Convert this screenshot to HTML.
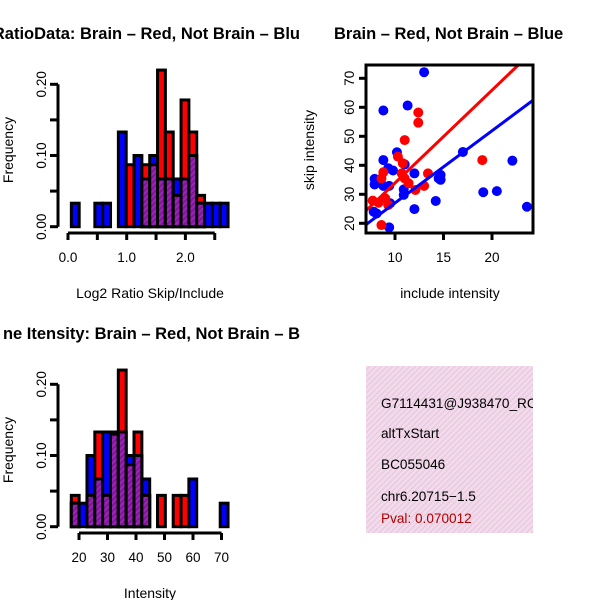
<!DOCTYPE html>
<html><head><meta charset="utf-8"><style>
html,body{margin:0;padding:0;background:#fff}
svg{display:block;font-family:"Liberation Sans",sans-serif}
</style></head><body>
<svg id="c" width="600" height="600" viewBox="0 0 600 600">
<defs>
<pattern id="purp" width="4" height="4" patternUnits="userSpaceOnUse" patternTransform="rotate(45)">
<rect width="4" height="4" fill="#a020c0"/><rect width="2" height="4" fill="#7a1a90"/></pattern>
<pattern id="pink" width="4" height="4" patternUnits="userSpaceOnUse" patternTransform="rotate(45)">
<rect width="4" height="4" fill="#f8d8f0"/><rect width="1.5" height="4" fill="#e0d0d8"/></pattern>
<clipPath id="boxclip"><rect x="366" y="366" width="167" height="167"/></clipPath>
</defs>
<g id="g"></g>
</svg>
<script>
// Top-left histogram data (log2 ratio)
const h1BinStart = 0.057, h1BinWidth = 0.1335;
const h1Red  = [0,0,0,0,0,0,0,0.087,0,0.087,0.087,0.22,0.133,0.044,0.178,0.133,0.044,0,0,0];
const h1Blue = [0.033,0,0,0.033,0.033,0,0.133,0,0.1,0.067,0.1,0.067,0.067,0.067,0.067,0.1,0.033,0.033,0.033,0.033];
const h1XTicks = [0,0.5,1,1.5,2,2.5];
const h1XLabels = ["0.0","","1.0","","2.0",""];
const hYTicks = [0,0.05,0.1,0.15,0.2];
const hYLabels = ["0.00","","0.10","","0.20"];
// Bottom-left histogram (intensity)
const h2BinStart = 17.3, h2BinWidth = 2.75;
const h2Red  = [0.044,0,0.044,0.133,0.044,0.133,0.22,0.087,0.133,0.044,0,0.044,0,0.044,0.044,0,0,0,0,0];
const h2Blue = [0.033,0.033,0.1,0.067,0.133,0.13,0.133,0.1,0.1,0.067,0,0,0,0,0,0.067,0,0,0,0.033];
const h2XTicks = [20,30,40,50,60,70];
// Scatter
const blueX = [13.0,8.8,11.3,10.2,17.0,8.8,9.3,9.8,11.0,12.0,7.9,7.9,8.8,9.4,10.9,10.9,14.7,14.7,14.5,14.2,12.0,9.5,7.8,8.1,9.4,19.1,20.5,22.1,23.6];
const blueY = [72.1,58.9,60.6,44.5,44.6,41.8,39,38.2,40.3,37.2,35.3,33.4,32.9,32.9,31.7,29.8,36.7,35,35.5,27.7,24.9,26.9,24,23.4,18.6,30.7,31.1,41.6,25.7];
const redX = [12.4,12.4,11.0,10.3,10.8,8.8,8.6,10.7,11.0,11.4,13.4,13.0,12.1,7.7,8.3,9.0,8.6,19.0,9.3];
const redY = [58.2,54.7,48.7,43,40.7,37.6,35.5,37.2,35.5,33.8,37.2,32.9,31.5,27.8,27.1,28.6,19.4,41.8,26.3];
const redFit = [1.9, 3.2];   // intercept, slope
const blueFit = [2.1, 2.49];
const sXTicks = [10,15,20];
const sYTicks = [20,30,40,50,60,70];

const NS="http://www.w3.org/2000/svg";
const G=document.getElementById('g');
function mk(tag,attrs,parent){const e=document.createElementNS(NS,tag);for(const k in attrs)e.setAttribute(k,attrs[k]);(parent||G).appendChild(e);return e;}
function txt(s,attrs,parent){const e=mk('text',attrs,parent);e.textContent=s;return e;}

function hist(y0px, binStart, binW, xScaleA, xScaleB, red, blue, xt, xl, axY, yLab, prefix){
  const X=v=>xScaleA+v*xScaleB;
  const Y=v=>y0px - v*712;
  for(let i=0;i<red.length;i++){
    const x0=X(binStart+i*binW), x1=X(binStart+(i+1)*binW);
    const r=red[i], b=blue[i];
    const bars=[[r,'#ff0000','red'],[b,'#0000ff','blue']].filter(d=>d[0]>0).sort((a,c)=>c[0]-a[0]);
    bars.forEach(d=>{
      const e=mk('rect',{x:x0,y:Y(d[0]),width:x1-x0,height:y0px-Y(d[0]),fill:d[1],stroke:'#000','stroke-width':3});
      
      
    });
    const m=Math.min(r,b);
    if(m>0){
      const e=mk('rect',{x:x0,y:Y(m),width:x1-x0,height:y0px-Y(m),fill:'url(#purp)',stroke:'#000','stroke-width':3});
      
      
    }
  }
  mk('line',{x1:58,x2:58,y1:Y(0),y2:Y(0.2),stroke:'#000','stroke-width':3});
  hYTicks.forEach((t,i)=>{
    mk('line',{x1:50,x2:58,y1:Y(t),y2:Y(t),stroke:'#000','stroke-width':3});
    if(hYLabels[i]){const e=txt(hYLabels[i],{x:0,y:0,'font-size':13.5,'text-anchor':'middle',transform:`translate(46,${Y(t)}) rotate(-90)`});
      }
  });
  mk('line',{x1:X(xt[0]),x2:X(xt[xt.length-1]),y1:axY,y2:axY,stroke:'#000','stroke-width':3});
  xt.forEach((t,i)=>{
    mk('line',{x1:X(t),x2:X(t),y1:axY,y2:axY+7,stroke:'#000','stroke-width':3});
    if(xl[i]){const e=txt(xl[i],{x:X(t),y:axY+29,'font-size':13.5,'text-anchor':'middle'});
      }
  });
}
hist(226.7, h1BinStart, h1BinWidth, 68, 58.7, h1Red, h1Blue, h1XTicks, h1XLabels, 233, '', 'ratio-hist');
hist(526.7, h2BinStart, h2BinWidth, 79-20*2.85, 2.85, h2Red, h2Blue, h2XTicks, h2XTicks.map(String), 533, '', 'intensity-hist');

// scatter
const SX=v=>395+(v-10)*9.7, SY=v=>223.3-(v-20)*2.9;
const sc=mk('g',{});

const clip=mk('clipPath',{id:'scclip'},sc);mk('rect',{x:366,y:65,width:167,height:168},clip);
const pts=mk('g',{'clip-path':'url(#scclip)'},sc);
blueX.forEach((v,i)=>{const e=mk('circle',{cx:SX(v),cy:SY(blueY[i]),r:5,fill:'#0000ff'},pts);
  });
redX.forEach((v,i)=>{const e=mk('circle',{cx:SX(v),cy:SY(redY[i]),r:5,fill:'#ff0000'},pts);
  });
[[redFit,'#ff0000','fit-line-brain'],[blueFit,'#0000ff','fit-line-not-brain']].forEach(f=>{
  const e=mk('line',{x1:SX(6),y1:SY(f[0][0]+f[0][1]*6),x2:SX(26),y2:SY(f[0][0]+f[0][1]*26),stroke:f[1],'stroke-width':3},pts);
  });
mk('rect',{x:366,y:65,width:167,height:168,fill:'none',stroke:'#000','stroke-width':3},sc);
sXTicks.forEach(t=>{mk('line',{x1:SX(t),x2:SX(t),y1:233,y2:240,stroke:'#000','stroke-width':3},sc);
  const e=txt(String(t),{x:SX(t),y:262,'font-size':13.5,'text-anchor':'middle'},sc);
  });
sYTicks.forEach(t=>{mk('line',{x1:359,x2:366,y1:SY(t),y2:SY(t),stroke:'#000','stroke-width':3},sc);
  const e=txt(String(t),{x:0,y:0,'font-size':13.5,'text-anchor':'middle',transform:`translate(354,${SY(t)}) rotate(-90)`},sc);
  });
</script>
<svg width="600" height="600" style="position:absolute;left:0;top:0" font-family="Liberation Sans, sans-serif">
<text x="300" y="39" font-size="16.5" font-weight="bold" text-anchor="end">RatioData: Brain – Red, Not Brain – Blu</text>
<text x="334" y="39" font-size="16.5" font-weight="bold">Brain – Red, Not Brain – Blue</text>
<text x="300" y="339" font-size="16.5" font-weight="bold" text-anchor="end">ne Itensity: Brain – Red, Not Brain – B</text>
<text x="150" y="298" font-size="14" text-anchor="middle">Log2 Ratio Skip/Include</text>
<text x="150" y="598" font-size="14" text-anchor="middle">Intensity</text>
<text transform="translate(13,150) rotate(-90)" font-size="14" text-anchor="middle">Frequency</text>
<text transform="translate(13,450) rotate(-90)" font-size="14" text-anchor="middle">Frequency</text>
<text x="450" y="298" font-size="14" text-anchor="middle">include intensity</text>
<text transform="translate(314,150) rotate(-90)" font-size="14" text-anchor="middle">skip intensity</text>
<g>
<rect x="366" y="366" width="167" height="167" fill="url(#pink)"/>
<g clip-path="url(#boxclip)" font-size="13.6">
<text x="381" y="408">G7114431@J938470_RC</text>
<text x="381" y="438">altTxStart</text>
<text x="381" y="469">BC055046</text>
<text x="381" y="501">chr6.20715−1.5</text>
<text x="381" y="523" fill="#b00000">Pval: 0.070012</text>
</g></g>
</svg>
</body></html>
